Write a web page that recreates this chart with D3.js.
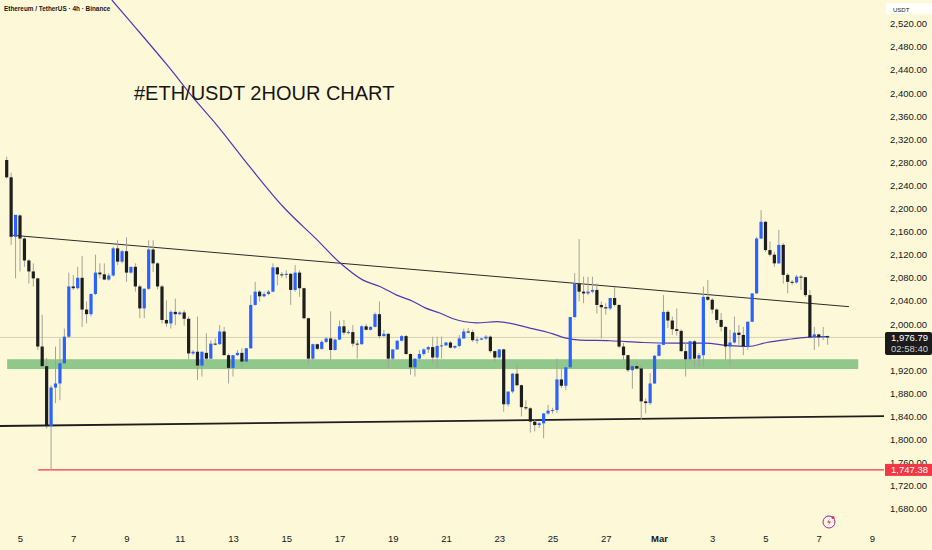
<!DOCTYPE html>
<html>
<head>
<meta charset="utf-8">
<script src="https://cdn.jsdelivr.net/npm/d3@7"></script>
<style>
  html, body { margin: 0; padding: 0; background: #fdf9d8; }
  svg { display: block; }
  text { font-family: "Liberation Sans", Arial, sans-serif; }
</style>
</head>
<body>
<svg id="chart"></svg>
<script>
// ETH/USDT 4h candles, first bar Feb 4 2025 12:00 UTC
const startTime = Date.UTC(2025, 1, 4, 12);
const barMs = 4 * 3600 * 1000;

const opens = [
  2284, 2254, 2151, 2188, 2148, 2110, 2091, 2079, 1961, 1927,
  1823, 1890, 1897, 1932, 1978, 2065, 2062, 2080, 2025, 2017,
  2052, 2089, 2086, 2077, 2084, 2131, 2108, 2126, 2089, 2099,
  2065, 2027, 2061, 2129, 2105, 2065, 2007, 2001, 2021, 2017,
  2020, 2009, 1949, 1952, 1928, 1950, 1940, 1966, 1965, 1987,
  1946, 1924, 1946, 1950, 1935, 1958, 2033, 2056, 2048, 2052,
  2056, 2098, 2086, 2085, 2087, 2059, 2089, 2062, 2010, 1940,
  1965, 1957, 1969, 1975, 1955, 1973, 1996, 1985, 1986, 1966,
  1965, 1996, 1990, 1995, 2017, 1979, 1983, 1940, 1956, 1971,
  1979, 1948, 1925, 1940, 1948, 1956, 1960, 1942, 1962, 1963,
  1968, 1959, 1962, 1975, 1987, 1986, 1972, 1973, 1975, 1978,
  1953, 1942, 1956, 1861, 1883, 1914, 1894, 1856, 1854, 1831,
  1825, 1828, 1845, 1850, 1851, 1904, 1893, 1925, 2012, 2070,
  2056, 2053, 2056, 2059, 2033, 2029, 2027, 2045, 2033, 1961,
  1946, 1920, 1927, 1923, 1866, 1863, 1897, 1945, 1964, 2021,
  2006, 1991, 1988, 1953, 1939, 1970, 1940, 1946, 2047, 2042,
  2025, 2007, 1995, 1961, 1968, 1985, 1981, 1961, 2004, 2053,
  2148, 2177, 2128, 2120, 2105, 2137, 2085, 2073, 2072, 2082,
  2081, 2050, 1977, 1982, 1977, 1979
];
const highs = [
  2290, 2262, 2189, 2190, 2150, 2112, 2105, 2080, 2016, 1941,
  1894, 1961, 1975, 1992, 2089, 2085, 2099, 2118, 2039, 2053,
  2120, 2105, 2105, 2088, 2134, 2145, 2128, 2150, 2099, 2105,
  2068, 2062, 2145, 2145, 2107, 2068, 2041, 2024, 2044, 2022,
  2024, 2013, 1955, 2013, 1952, 1984, 1972, 1975, 1998, 1995,
  1949, 1946, 1955, 1958, 1958, 2050, 2073, 2059, 2056, 2059,
  2105, 2099, 2090, 2093, 2088, 2102, 2093, 2063, 2011, 1966,
  1966, 1972, 1977, 2022, 1975, 2006, 2007, 1990, 1998, 1972,
  1998, 2000, 1996, 2020, 2039, 1990, 1984, 1956, 1972, 1981,
  1981, 1949, 1940, 1955, 1958, 1962, 1978, 1978, 1978, 1969,
  1970, 1963, 1981, 1992, 1993, 1990, 1978, 1976, 1981, 1980,
  1954, 1956, 1957, 1883, 1915, 1933, 1895, 1868, 1856, 1834,
  1830, 1846, 1860, 1855, 1940, 1923, 1926, 2012, 2088, 2147,
  2082, 2082, 2082, 2070, 2039, 2036, 2045, 2064, 2034, 1967,
  1947, 1929, 1934, 1929, 1871, 1915, 1946, 1967, 2050, 2024,
  2013, 2027, 1991, 1969, 1971, 1972, 1950, 2065, 2076, 2045,
  2027, 2019, 1996, 1990, 2013, 1998, 1995, 2004, 2053, 2151,
  2197, 2178, 2143, 2125, 2163, 2140, 2088, 2076, 2085, 2085,
  2082, 2059, 1995, 1983, 1995, 1980
];
const lows = [
  2252, 2137, 2079, 2091, 2099, 2070, 2065, 1955, 1926, 1819,
  1747.38, 1863, 1868, 1930, 1976, 2059, 2060, 1995, 2001, 2013,
  2050, 2079, 2076, 2075, 2082, 2102, 2105, 2073, 2087, 2056,
  2010, 2010, 2059, 2090, 2060, 2001, 1995, 1992, 1998, 2015,
  1997, 1939, 1946, 1903, 1909, 1938, 1939, 1963, 1964, 1946,
  1897, 1909, 1945, 1926, 1933, 1957, 2032, 2039, 2046, 2050,
  2055, 2067, 2080, 2079, 2033, 2056, 2047, 2008, 1929, 1937,
  1955, 1955, 1967, 1938, 1954, 1972, 1981, 1982, 1961, 1940,
  1964, 1989, 1989, 1994, 1975, 1978, 1923, 1937, 1955, 1970,
  1947, 1912, 1909, 1935, 1945, 1950, 1932, 1923, 1940, 1962,
  1958, 1957, 1960, 1974, 1984, 1969, 1966, 1972, 1972, 1950,
  1935, 1940, 1848, 1857, 1880, 1892, 1840, 1851, 1812, 1814,
  1820, 1802, 1843, 1845, 1846, 1889, 1886, 1924, 2011, 2039,
  2036, 2050, 2053, 2018, 1975, 2016, 2024, 2030, 1958, 1937,
  1917, 1888, 1921, 1834, 1845, 1860, 1896, 1944, 1963, 1993,
  1981, 1980, 1952, 1909, 1937, 1926, 1925, 1926, 2040, 2018,
  2001, 1987, 1938, 1926, 1966, 1964, 1946, 1955, 2003, 2052,
  2147, 2125, 2117, 2099, 2104, 2070, 2053, 2068, 2070, 2059,
  2047, 1975, 1955, 1961, 1972, 1964
];
const closes = [
  2254, 2151, 2189, 2148, 2110, 2091, 2079, 1961, 1927, 1823,
  1890, 1897, 1932, 1978, 2065, 2062, 2080, 2025, 2017, 2052,
  2089, 2086, 2077, 2084, 2131, 2108, 2126, 2089, 2099, 2065,
  2027, 2061, 2129, 2105, 2065, 2007, 2001, 2021, 2017, 2020,
  2009, 1949, 1952, 1928, 1952, 1940, 1966, 1965, 1987, 1946,
  1924, 1946, 1950, 1935, 1958, 2033, 2056, 2048, 2052, 2056,
  2098, 2086, 2085, 2087, 2059, 2089, 2062, 2010, 1940, 1965,
  1957, 1969, 1975, 1955, 1973, 1996, 1985, 1986, 1966, 1965,
  1996, 1990, 1995, 2017, 1979, 1983, 1940, 1956, 1971, 1979,
  1948, 1925, 1940, 1948, 1956, 1960, 1942, 1962, 1963, 1968,
  1959, 1962, 1975, 1987, 1986, 1972, 1973, 1975, 1978, 1953,
  1942, 1956, 1861, 1883, 1914, 1894, 1856, 1854, 1831, 1825,
  1828, 1845, 1850, 1851, 1904, 1893, 1925, 2012, 2070, 2056,
  2053, 2056, 2059, 2033, 2029, 2027, 2045, 2033, 1961, 1946,
  1920, 1927, 1923, 1866, 1863, 1897, 1945, 1964, 2021, 2006,
  1991, 1988, 1953, 1939, 1970, 1940, 1946, 2047, 2042, 2025,
  2007, 1995, 1961, 1968, 1985, 1981, 1961, 2004, 2053, 2148,
  2177, 2128, 2120, 2105, 2137, 2085, 2073, 2072, 2082, 2081,
  2050, 1977, 1982, 1977, 1979, 1976.79
];

// purple moving average (bar offset, price)
const maBars = [23.7, 28.5, 36.1, 42.8, 47.3, 54.8, 62.3, 69.9, 75.1, 80.3,
  84.1, 87.9, 91.6, 94.3, 97.6, 100.6, 106, 110.5, 117.9, 123.1,
  125.8, 129.2, 136, 143.4, 150, 157.4, 162.3, 167.1, 171.3, 175.8, 180.3, 185];
const maValues = [2561, 2518, 2449, 2385, 2345, 2272, 2203, 2146, 2106, 2076,
  2065, 2050, 2039, 2028, 2019, 2009, 2002, 2004, 1993, 1983,
  1976, 1972, 1971, 1968, 1967, 1967, 1963, 1961, 1968, 1973, 1977, 1978];

// drawn lines and zones (bar offset, price)
const upperTrendBars = [1.4, 189.8];
const upperTrendPrices = [2153.6, 2030];
const lowerTrendBars = [-1.6, 197.7];
const lowerTrendPrices = [1823.4, 1840.5];
const supportBars = [7.1, 197.7];
const supportPrice = 1747.38;
const zoneBars = [0.1, 191.9];
const zonePrices = [1922, 1939];
const lastPrice = 1976.79;
const countdown = "02:58:40";

const priceTicks = [2520, 2480, 2440, 2400, 2360, 2320, 2280, 2240, 2200, 2160,
  2120, 2080, 2040, 2000, 1960, 1920, 1880, 1840, 1800, 1760, 1720, 1680];
const dateTicks = [[1, 5], [1, 7], [1, 9], [1, 11], [1, 13], [1, 15], [1, 17], [1, 19],
  [1, 21], [1, 23], [1, 25], [1, 27], [2, 1], [2, 3], [2, 5], [2, 7], [2, 9]];
const dateLabels = ["5", "7", "9", "11", "13", "15", "17", "19", "21", "23", "25", "27",
  "Mar", "3", "5", "7", "9"];

const width = 932, height = 550, plotRight = 885;

const svg = d3.select("#chart")
  .attr("width", width)
  .attr("height", height);

svg.append("rect").attr("width", width).attr("height", height).attr("fill", "#fdf9d8");

const x = d3.scaleUtc()
  .domain([new Date(Date.UTC(2025, 1, 5)), new Date(Date.UTC(2025, 2, 9))])
  .range([20, 872]);
const y = d3.scaleLinear()
  .domain([1680, 2520])
  .range([508.8, 23.7]);
const barX = b => x(new Date(startTime + b * barMs));

svg.append("clipPath").attr("id", "plot")
  .append("rect").attr("width", plotRight).attr("height", height);
const plot = svg.append("g").attr("clip-path", "url(#plot)");

// green demand zone
plot.append("rect")
  .attr("x", barX(zoneBars[0]))
  .attr("width", barX(zoneBars[1]) - barX(zoneBars[0]))
  .attr("y", y(zonePrices[1]))
  .attr("height", y(zonePrices[0]) - y(zonePrices[1]))
  .attr("fill", "#90c78a");

// last price line
plot.append("line")
  .attr("x1", 0).attr("x2", plotRight)
  .attr("y1", y(lastPrice)).attr("y2", y(lastPrice))
  .attr("stroke", "#d6d2b6").attr("stroke-width", 1);

// trend lines
const seg = (bars, prices) => d3.line()(bars.map((b, i) => [barX(b), y(prices[i])]));
plot.append("path").attr("d", seg(upperTrendBars, upperTrendPrices))
  .attr("stroke", "#2a2a2a").attr("stroke-width", 1).attr("fill", "none");
plot.append("path").attr("d", seg(lowerTrendBars, lowerTrendPrices))
  .attr("stroke", "#1e1e1e").attr("stroke-width", 1.8).attr("fill", "none");
plot.append("path").attr("d", seg(supportBars, [supportPrice, supportPrice]))
  .attr("stroke", "#f23645").attr("stroke-width", 1.2).attr("fill", "none");

// moving average
const maLine = d3.line()
  .x((d, i) => barX(maBars[i]))
  .y(d => y(d))
  .curve(d3.curveMonotoneX);
plot.append("path")
  .datum(maValues)
  .attr("d", maLine)
  .attr("stroke", "#4b3bb5").attr("stroke-width", 1.2).attr("fill", "none");

// candles
const candles = opens.map((o, i) => ({ i, o, h: highs[i], l: lows[i], c: closes[i] }));
plot.selectAll(".wick")
  .data(candles)
  .enter().append("line")
  .attr("class", "wick")
  .attr("x1", d => barX(d.i)).attr("x2", d => barX(d.i))
  .attr("y1", d => y(d.h)).attr("y2", d => y(d.l))
  .attr("stroke", "#a3a39b").attr("stroke-width", 1);
plot.selectAll(".body")
  .data(candles)
  .enter().append("rect")
  .attr("class", "body")
  .attr("x", d => barX(d.i) - 1.6)
  .attr("width", 3.2)
  .attr("y", d => y(Math.max(d.o, d.c)))
  .attr("height", d => Math.max(1, Math.abs(y(d.o) - y(d.c))))
  .attr("fill", d => d.c >= d.o ? "#2962ff" : "#1e1e1e");

// header + title
svg.append("text")
  .attr("x", 4).attr("y", 11)
  .attr("font-size", 6.4).attr("font-weight", "bold").attr("fill", "#131722")
  .text("Ethereum / TetherUS · 4h · Binance");
svg.append("text")
  .attr("x", 134).attr("y", 100)
  .attr("font-size", 20).attr("fill", "#161616")
  .text("#ETH/USDT 2HOUR CHART");

// price axis
const yAxis = svg.append("g")
  .attr("transform", `translate(${plotRight},0)`)
  .call(d3.axisRight(y).tickValues(priceTicks).tickSize(0).tickPadding(5)
    .tickFormat(d3.format(",.2f")));
yAxis.select(".domain").remove();
yAxis.selectAll("text").attr("font-size", 9.5).attr("fill", "#131722")
  .attr("font-family", "Liberation Sans, Arial, sans-serif");

svg.append("rect").attr("x", 886).attr("y", 3).attr("width", 46).attr("height", 11)
  .attr("fill", "#ffffff").attr("opacity", 0.85);
svg.append("text").attr("x", 893).attr("y", 11.5)
  .attr("font-size", 6).attr("fill", "#131722").text("USDT");

// last price tag
const fmt = d3.format(",.2f");
svg.append("rect").attr("x", plotRight).attr("y", y(lastPrice) - 5.5)
  .attr("width", width - plotRight).attr("height", 23).attr("rx", 2).attr("fill", "#1b1b1b");
svg.append("text").attr("x", 891).attr("y", y(lastPrice) + 3.3)
  .attr("font-size", 9.5).attr("fill", "#ffffff").text(fmt(lastPrice));
svg.append("text").attr("x", 891).attr("y", y(lastPrice) + 14.3)
  .attr("font-size", 9.5).attr("fill", "#d0d0d0").text(countdown);

// support price tag
svg.append("rect").attr("x", plotRight).attr("y", y(supportPrice) - 6)
  .attr("width", width - plotRight).attr("height", 12).attr("fill", "#f23645");
svg.append("text").attr("x", 891).attr("y", y(supportPrice) + 3.4)
  .attr("font-size", 9.5).attr("fill", "#ffffff").text(fmt(supportPrice));

// time axis
const tickDates = dateTicks.map(([m, d]) => new Date(Date.UTC(2025, m, d)));
const xAxis = svg.append("g")
  .attr("transform", "translate(0,535)")
  .call(d3.axisBottom(x).tickValues(tickDates).tickSize(0).tickPadding(0)
    .tickFormat((d, i) => dateLabels[i]));
xAxis.select(".domain").remove();
xAxis.selectAll("text").attr("font-size", 9.5).attr("fill", "#131722")
  .attr("font-family", "Liberation Sans, Arial, sans-serif")
  .attr("font-weight", (d, i) => dateLabels[i] === "Mar" ? "bold" : "normal");

// small replay icon
const icon = svg.append("g").attr("transform", "translate(829,522)");
icon.append("circle").attr("r", 6).attr("fill", "none").attr("stroke", "#9c27b0").attr("stroke-width", 1);
icon.append("path").attr("d", "M1,-3.5 L-2,0.5 L0.5,0.5 L-1,3.5 L2,-0.5 L-0.5,-0.5 Z").attr("fill", "#9c27b0");
icon.append("circle").attr("cx", 4).attr("cy", -4.5).attr("r", 1.6).attr("fill", "#f23645");
</script>
</body>
</html>
